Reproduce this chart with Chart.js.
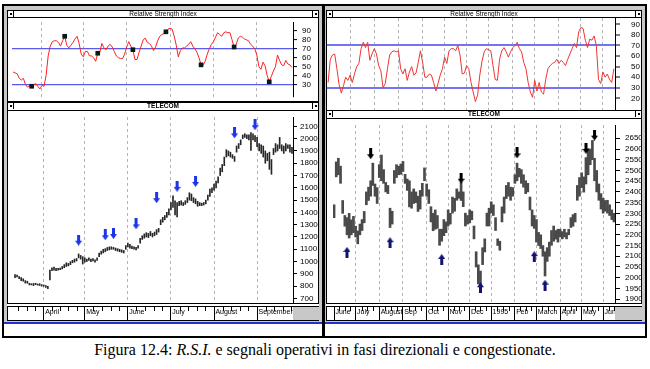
<!DOCTYPE html>
<html>
<head>
<meta charset="utf-8">
<script src="https://cdn.jsdelivr.net/npm/chart.js@4.4.0/dist/chart.umd.min.js"></script>
<style>
body { margin: 0; width: 650px; height: 369px; background: #fff; position: relative; overflow: hidden; }
.abs { position: absolute; box-sizing: border-box; }
.white { background: #fff; border: 1px solid #000; }
.tb { background: #fff; border: 1px solid #000; font: 6.5px/6px "Liberation Sans", sans-serif; text-align: center; color: #000; overflow: hidden; filter: grayscale(1); }
.tb.bold { font-weight: bold; }
.tb i { position: absolute; top: 0; width: 5px; height: 6px; background: #fff; }
.tb i.bl { left: 0; border-right: 1px solid #000; }
.tb i.br { right: 0; border-left: 1px solid #000; }
.tb i::after { content: ""; position: absolute; left: 1.5px; top: 2px; width: 2px; height: 2px; background: #000; }
.dbl { background: #fff; border-top: 1px solid #000; border-bottom: 1px solid #000; z-index: 2; }
canvas { position: absolute; }
#caption { position: absolute; left: 0; top: 341px; width: 650px; text-align: center; font: 16px/18px "Liberation Serif", "Times New Roman", serif; color: #000; }
</style>
</head>
<body>

<div class="abs" style="left:2px;top:4px;width:645px;height:334px;border:2px solid #000;background:#c8c8c8"></div>
<div class="abs" style="left:322px;top:4px;width:3px;height:334px;background:#000"></div>

<!-- left window -->
<div class="abs tb" style="left:7px;top:10px;width:312px;height:8px"><i class="bl"></i>Relative Strength Index<i class="br"></i></div>
<div class="abs white" style="left:7px;top:17px;width:312px;height:85px"></div>
<div class="abs tb bold" style="left:7px;top:102px;width:312px;height:9px"><i class="bl"></i>TELECOM<i class="br"></i></div>
<div class="abs white" style="left:7px;top:110px;width:312px;height:211px"></div>
<div class="abs" style="left:4px;top:322px;width:318px;height:2px;background:#1f35c8"></div>
<div class="abs" style="left:4px;top:324px;width:318px;height:12px;background:#fff"></div>

<!-- right window -->
<div class="abs tb" style="left:326px;top:10px;width:316px;height:8px"><i class="bl"></i>Relative Strength Index<i class="br"></i></div>
<div class="abs white" style="left:326px;top:17px;width:316px;height:94px"></div>
<div class="abs tb bold" style="left:326px;top:110px;width:316px;height:9px"><i class="bl"></i>TELECOM<i class="br"></i></div>
<div class="abs white" style="left:326px;top:118px;width:316px;height:203px"></div>
<div class="abs" style="left:325px;top:322px;width:320px;height:2px;background:#1f35c8"></div>
<div class="abs" style="left:325px;top:324px;width:320px;height:12px;background:#fff"></div>

<canvas id="rsiL" width="310" height="83" style="left:8px;top:18px"></canvas>
<canvas id="priceL" width="310" height="209" style="left:8px;top:111px"></canvas>
<canvas id="rsiR" width="314" height="92" style="left:327px;top:18px"></canvas>
<canvas id="priceR" width="314" height="201" style="left:327px;top:119px"></canvas>

<div class="abs dbl" style="left:7px;top:303px;width:312px;height:4px"></div>
<div class="abs" style="left:293px;top:307px;width:26px;height:13px;background:#c8c8c8;z-index:2"></div>
<div class="abs dbl" style="left:326px;top:303px;width:316px;height:4px"></div>
<div class="abs" style="left:615px;top:307px;width:27px;height:13px;background:#c8c8c8;z-index:2"></div>

<div id="caption">Figura 12.4: <i>R.S.I.</i> e segnali operativi in fasi direzionali e congestionate.</div>

<script>
// ---- left window (uptrend) ----
const leftMonthStarts = [14, 34, 55, 76, 97, 118];
const leftMonths = ['April', 'May', 'June', 'July', 'August', 'September'];
const leftRsiTicks = [30, 40, 50, 60, 70, 80, 90];
const leftPriceTicks = [700, 800, 900, 1000, 1100, 1200, 1300, 1400, 1500, 1600, 1700, 1800, 1900, 2000, 2100];

const leftRsi = [
  44, 43, 42, 37, 35, 37, 30, 27, 29, 28,
  30, 31, 28, 25, 29, 28, 40, 62, 73, 78,
  79, 79, 77, 73, 79, 84, 74, 71, 74, 77,
  81, 84, 76, 64, 61, 67, 67, 62, 62, 60,
  56, 65, 66, 76, 71, 69, 73, 75, 72, 67,
  62, 60, 59, 59, 64, 72, 78, 73, 69, 58,
  58, 66, 73, 80, 82, 77, 76, 73, 68, 72,
  79, 84, 86, 87, 89, 92, 93, 92, 84, 74,
  61, 68, 71, 71, 73, 75, 78, 73, 70, 66,
  60, 52, 52, 56, 64, 70, 75, 78, 83, 88,
  86, 84, 88, 89, 88, 88, 80, 72, 75, 82,
  84, 83, 81, 80, 79, 75, 73, 70, 63, 50,
  47, 55, 51, 40, 33, 39, 45, 50, 63, 57,
  52, 51, 57, 53, 52, 49
];
const leftRsiMarks = [9, 25, 41, 58, 74, 91, 107, 124];

const leftLow = [
  870, 875, 860, 845, 840, 825, 824, 810, 810, 805,
  812, 808, 805, 800, 800, 790, 780, 850, 925, 930,
  925, 930, 935, 940, 950, 960, 965, 975, 990, 995,
  1005, 1030, 1020, 980, 995, 1000, 1010, 1000, 1005, 995,
  1010, 1040, 1060, 1070, 1080, 1090, 1095, 1100, 1100, 1090,
  1085, 1080, 1075, 1070, 1100, 1120, 1110, 1105, 1100, 1095,
  1110, 1150, 1180, 1190, 1200, 1195, 1210, 1200, 1210, 1220,
  1240, 1300, 1320, 1340, 1360, 1380, 1420, 1440, 1380, 1363,
  1455, 1460, 1455, 1465, 1480, 1500, 1495, 1480, 1470, 1450,
  1455, 1455, 1460, 1470, 1500, 1530, 1560, 1580, 1600, 1640,
  1700, 1730, 1780, 1850, 1860, 1850, 1840, 1815, 1890, 1920,
  1950, 2000, 2010, 2000, 1990, 1905, 1990, 1975, 1935, 1900,
  1880, 1850, 1800, 1820, 1750, 1710, 1870, 1890, 1900, 1920,
  1900, 1880, 1900, 1920, 1890, 1880
];
const leftHigh = [
  895, 890, 877, 870, 860, 845, 840, 824, 820, 822,
  824, 818, 820, 812, 810, 805, 798, 930, 950, 955,
  945, 945, 948, 960, 975, 990, 985, 1000, 1010, 1020,
  1025, 1062, 1050, 1040, 1030, 1020, 1030, 1020, 1025, 1015,
  1030, 1070, 1085, 1100, 1105, 1115, 1120, 1120, 1115, 1110,
  1105, 1100, 1095, 1090, 1130, 1150, 1140, 1125, 1120, 1115,
  1130, 1190, 1210, 1225, 1235, 1230, 1245, 1230, 1240, 1260,
  1270, 1340, 1360, 1375, 1400, 1430, 1480, 1535, 1495, 1480,
  1490, 1495, 1480, 1495, 1520, 1560, 1550, 1520, 1510, 1490,
  1480, 1475, 1480, 1500, 1540, 1590, 1600, 1630, 1655, 1690,
  1760, 1790, 1850, 1910, 1900, 1890, 1870, 1855, 1940, 1960,
  1990, 2030, 2040, 2030, 2030, 2050, 2040, 2025, 2010, 1960,
  1950, 1940, 1900, 1880, 1890, 1830, 1920, 1960, 1950, 2010,
  1950, 1940, 1960, 1950, 1950, 1930
];
const leftSellDays = [31, 44, 48, 59, 69, 79, 88, 107, 117];
const leftSellValues = [1174, 1218, 1228, 1307, 1520, 1612, 1652, 2047, 2113];

// ---- right window (congestion) ----
const rightMonthStarts = [0, 10, 21, 32, 43, 53, 63, 73, 84, 94, 105, 115, 125];
const rightMonths = ['June', 'July', 'August', 'Sep', 'Oct', 'Nov', 'Dec', '1995', 'Feb', 'March', 'April', 'May', 'Jun'];
const rightRsiTicks = [20, 30, 40, 50, 60, 70, 80, 90];
const rightPriceTicks = [1900, 1950, 2000, 2050, 2100, 2150, 2200, 2250, 2300, 2350, 2400, 2450, 2500, 2550, 2600, 2650];

const rightRsi = [
  35, 57, 61, 62, 48, 33, 25, 32, 40, 37,
  42, 35, 43, 50, 53, 67, 73, 68, 73, 56,
  62, 67, 62, 51, 46, 30, 34, 48, 61, 64,
  65, 64, 65, 48, 43, 48, 37, 45, 50, 42,
  44, 54, 65, 54, 40, 40, 43, 42, 35, 27,
  34, 42, 48, 59, 53, 65, 67, 67, 65, 70,
  61, 43, 44, 51, 48, 35, 26, 17, 23, 42,
  55, 64, 67, 66, 65, 51, 38, 37, 57, 65,
  68, 64, 59, 64, 68, 70, 73, 67, 64, 54,
  48, 35, 26, 21, 37, 27, 35, 26, 24, 38,
  48, 51, 53, 54, 57, 53, 56, 54, 51, 57,
  62, 67, 72, 68, 83, 87, 86, 75, 68, 76,
  75, 79, 70, 38, 34, 45, 40, 43, 38, 35,
  48
];

const rightLow = [
  2280, 2470, 2480, 2440, 2300, 2240, 2200, 2185, 2200, 2210,
  2190, 2158, 2200, 2220, 2256, 2340, 2360, 2380, 2430, 2380,
  2346, 2467, 2452, 2440, 2400, 2392, 2234, 2250, 2440, 2467,
  2480, 2482, 2495, 2440, 2407, 2330, 2324, 2346, 2350, 2309,
  2320, 2380, 2452, 2380, 2346, 2260, 2219, 2226, 2230, 2151,
  2170, 2196, 2210, 2241, 2250, 2301, 2310, 2361, 2370, 2360,
  2331, 2241, 2250, 2256, 2270, 2181, 2050, 1971, 1963, 2061,
  2120, 2241, 2241, 2301, 2290, 2220, 2150, 2128, 2260, 2301,
  2369, 2380, 2361, 2380, 2440, 2452, 2470, 2440, 2422, 2392,
  2400, 2316, 2241, 2230, 2166, 2150, 2136, 2100, 2008, 2076,
  2100, 2151, 2170, 2180, 2166, 2190, 2181, 2190, 2181, 2200,
  2234, 2240, 2260, 2361, 2380, 2420, 2399, 2437, 2480, 2527,
  2550, 2452, 2400, 2361, 2320, 2301, 2310, 2301, 2290, 2271,
  2260
];
const rightHigh = [
  2340, 2540, 2557, 2520, 2360, 2290, 2280, 2300, 2270, 2286,
  2240, 2218, 2250, 2271, 2309, 2400, 2422, 2452, 2534, 2437,
  2420, 2527, 2572, 2504, 2444, 2430, 2324, 2310, 2500, 2527,
  2520, 2530, 2542, 2482, 2460, 2452, 2400, 2414, 2400, 2380,
  2407, 2440, 2512, 2437, 2410, 2331, 2300, 2316, 2290, 2226,
  2226, 2271, 2260, 2316, 2300, 2376, 2370, 2414, 2400, 2444,
  2400, 2301, 2290, 2316, 2310, 2241, 2121, 2060, 2031, 2140,
  2181, 2301, 2324, 2354, 2340, 2280, 2181, 2170, 2330, 2376,
  2430, 2444, 2422, 2420, 2480, 2534, 2510, 2504, 2480, 2452,
  2440, 2376, 2316, 2290, 2271, 2211, 2200, 2150, 2121, 2140,
  2166, 2220, 2241, 2220, 2226, 2226, 2215, 2226, 2210, 2226,
  2280, 2294, 2300, 2430, 2467, 2489, 2470, 2560, 2602, 2600,
  2640, 2557, 2500, 2437, 2392, 2370, 2360, 2361, 2340, 2316,
  2300
];
const rightSellDays = [17, 59, 85, 117, 121];
const rightSellValues = [2578, 2464, 2582, 2603, 2665];
const rightBuyDays = [6, 26, 50, 68, 93, 98];
const rightBuyValues = [2118, 2163, 2085, 1953, 2098, 1965];

const axisFont = { family: '"Liberation Sans", Arial, sans-serif', size: 8 };
const monthFont = { family: '"Liberation Sans", Arial, sans-serif', size: 7 };

function arrow(color, up) {
    const c = document.createElement('canvas');
    c.width = 7; c.height = 11;
    const g = c.getContext('2d');
    g.fillStyle = color;
    g.beginPath();
    if (up) {
        g.moveTo(3.5, 0); g.lineTo(7, 5); g.lineTo(5, 5); g.lineTo(5, 11); g.lineTo(2, 11); g.lineTo(2, 5); g.lineTo(0, 5);
    } else {
        g.moveTo(2, 0); g.lineTo(5, 0); g.lineTo(5, 6); g.lineTo(7, 6); g.lineTo(3.5, 11); g.lineTo(0, 6); g.lineTo(2, 6);
    }
    g.closePath();
    g.fill();
    return c;
}

// small week ticks in the date strip
const minorTicks = {
    id: 'minorTicks',
    afterDraw(chart, args, opts) {
        if (!opts.starts) return;
        const x = chart.scales.x, s = opts.starts, pts = [];
        for (let m = 0; m < s.length - 1; m++) {
            const step = (s[m + 1] - s[m]) / opts.parts;
            for (let k = 1; k < opts.parts; k++) pts.push(s[m] + k * step);
        }
        const avg = (s[s.length - 1] - s[0]) / (s.length - 1) / opts.parts;
        for (let v = s[0] - avg; v > -0.5; v -= avg) pts.push(v);
        for (let v = s[s.length - 1] + avg; v < x.max + 0.5; v += avg) pts.push(v);
        const ctx = chart.ctx, y0 = chart.chartArea.bottom + 4;
        ctx.save();
        ctx.strokeStyle = '#000';
        ctx.lineWidth = 1;
        ctx.beginPath();
        pts.forEach(v => {
            const px = Math.round(x.getPixelForValue(v)) + 0.5;
            ctx.moveTo(px, y0);
            ctx.lineTo(px, y0 + 4);
        });
        ctx.stroke();
        ctx.restore();
    }
};

function xScale(starts, names, h) {
    return {
        type: 'category',
        offset: true,
        grid: {
            offset: false,
            color: c => (c.tick && c.tick.value === 0) ? 'rgba(0,0,0,0)' : '#b4b4b4',
            drawTicks: h > 0, tickLength: h, tickColor: '#000', tickWidth: 1
        },
        border: { display: false, dash: [3, 3] },
        ticks: {
            display: h > 0, autoSkip: false, maxRotation: 0, align: 'start', padding: -12,
            color: '#000', font: monthFont,
            callback: v => '\u2009' + names[starts.indexOf(v)]
        },
        afterBuildTicks: s => { s.ticks = starts.map(v => ({ value: v })); },
        afterFit: s => { s.height = h; s.paddingLeft = 0; s.paddingRight = 0; s.paddingTop = 0; s.paddingBottom = 0; }
    };
}

function yScale(o) {
    return {
        type: 'linear', position: 'right', min: o.min, max: o.max,
        afterBuildTicks: s => { s.ticks = o.ticks.map(v => ({ value: v })); },
        grid: {
            drawOnChartArea: !!o.bands,
            color: c => (o.bands && c.tick && (c.tick.value === 30 || c.tick.value === 70)) ? o.bandColor : 'rgba(0,0,0,0)',
            lineWidth: o.bandWidth || 1,
            tickLength: o.tickLen, tickColor: '#000', tickWidth: 1
        },
        border: { display: true, color: '#000', width: 1 },
        ticks: { autoSkip: false, color: '#000', padding: o.pad, font: axisFont, callback: v => String(v) },
        afterFit: s => { s.width = o.width; s.paddingTop = 0; s.paddingBottom = 0; }
    };
}

function drawRsi(id, o) {
    const labels = o.values.map((v, i) => i);
    const datasets = [{
        type: 'line', data: o.values, borderColor: o.color, borderWidth: 1,
        pointRadius: 0, tension: 0, order: 2
    }];
    if (o.marks) {
        datasets.push({
            type: 'scatter', data: o.marks.map(d => ({ x: d, y: o.values[d] })),
            pointStyle: 'rect', pointRadius: 3.3, backgroundColor: '#071a1a', borderWidth: 0, order: 1
        });
    }
    new Chart(document.getElementById(id), {
        type: 'line',
        data: { labels, datasets },
        options: {
            responsive: false, animation: false, events: [],
            layout: { padding: 0 },
            plugins: { legend: { display: false }, tooltip: { enabled: false } },
            scales: { x: xScale(o.starts, o.names, 0), y: yScale(o.y) }
        }
    });
}

function drawPrice(id, o) {
    const labels = o.low.map((v, i) => i);
    const datasets = [{
        type: 'bar', data: o.low.map((v, i) => [v, o.high[i]]),
        backgroundColor: o.color, barThickness: o.barW, order: 3
    }];
    o.arrows.forEach(a => datasets.push({
        type: 'scatter', data: a.days.map((d, i) => ({ x: d, y: a.values[i] })),
        pointStyle: a.img, pointRadius: 5, order: 1
    }));
    new Chart(document.getElementById(id), {
        type: 'bar',
        data: { labels, datasets },
        options: {
            responsive: false, animation: false, events: [],
            layout: { padding: 0 },
            plugins: {
                legend: { display: false }, tooltip: { enabled: false },
                minorTicks: { starts: o.starts, parts: o.parts }
            },
            scales: { x: xScale(o.starts, o.names, 17), y: yScale(o.y) }
        },
        plugins: [minorTicks]
    });
}

drawRsi('rsiL', {
    values: leftRsi, marks: leftRsiMarks, color: '#ff2020',
    starts: leftMonthStarts, names: leftMonths,
    y: { min: 16, max: 100, ticks: leftRsiTicks, width: 25, tickLen: 4, pad: 5, bands: true, bandColor: '#5a5aee', bandWidth: 1.2 }
});

drawPrice('priceL', {
    low: leftLow, high: leftHigh, color: '#262626', barW: 1,
    starts: leftMonthStarts, names: leftMonths, parts: 5,
    arrows: [{ days: leftSellDays, values: leftSellValues, img: arrow('#1d35e6', false) }],
    y: { min: 663, max: 2176, ticks: leftPriceTicks, width: 25, tickLen: 4, pad: 3 }
});

drawRsi('rsiR', {
    values: rightRsi, color: '#f03434',
    starts: rightMonthStarts, names: rightMonths,
    y: { min: 9, max: 96, ticks: rightRsiTicks, width: 26, tickLen: 5, pad: 11, bands: true, bandColor: '#7474ee', bandWidth: 2 }
});

drawPrice('priceR', {
    low: rightLow, high: rightHigh, color: '#4a4a4a', barW: 2,
    starts: rightMonthStarts, names: rightMonths, parts: 4,
    arrows: [
        { days: rightSellDays, values: rightSellValues, img: arrow('#000000', false) },
        { days: rightBuyDays, values: rightBuyValues, img: arrow('#12126e', true) }
    ],
    y: { min: 1882, max: 2712, ticks: rightPriceTicks, width: 26, tickLen: 5, pad: 5 }
});
</script>
</body>
</html>
